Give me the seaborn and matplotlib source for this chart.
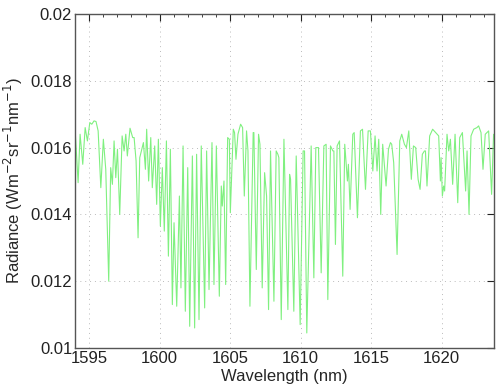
import numpy as np
import pandas as pd
import seaborn as sns
import matplotlib
matplotlib.use("Agg")
import matplotlib.pyplot as plt
from matplotlib.ticker import MultipleLocator

# spectrum (peaks and line cores)
wavelength = [
    1594.00, 1594.22, 1594.36, 1594.55, 1594.72, 1594.88, 1595.05, 1595.19, 1595.35, 1595.49,
    1595.64, 1595.83, 1596.01, 1596.18, 1596.39, 1596.53, 1596.65, 1596.77, 1596.89, 1597.01,
    1597.17, 1597.34, 1597.48, 1597.60, 1597.71, 1597.90, 1598.09, 1598.19, 1598.33, 1598.47,
    1598.59, 1598.85, 1598.99, 1599.08, 1599.22, 1599.37, 1599.48, 1599.65, 1599.79, 1599.91,
    1600.05, 1600.19, 1600.33, 1600.48, 1600.62, 1600.76, 1600.90, 1601.02, 1601.21, 1601.40,
    1601.51, 1601.66, 1601.82, 1601.99, 1602.13, 1602.32, 1602.48, 1602.62, 1602.79, 1602.95,
    1603.19, 1603.33, 1603.50, 1603.71, 1603.85, 1604.02, 1604.23, 1604.37, 1604.44, 1604.56,
    1604.68, 1604.82, 1604.94, 1605.01, 1605.22, 1605.31, 1605.41, 1605.55, 1605.74, 1605.88,
    1606.00, 1606.16, 1606.26, 1606.40, 1606.63, 1606.68, 1606.85, 1607.01, 1607.11, 1607.27,
    1607.44, 1607.58, 1607.72, 1607.86, 1608.10, 1608.26, 1608.38, 1608.45, 1608.62, 1608.81,
    1609.09, 1609.21, 1609.28, 1609.51, 1609.68, 1609.96, 1610.17, 1610.27, 1610.43, 1610.74,
    1610.93, 1611.07, 1611.26, 1611.45, 1611.64, 1611.80, 1611.92, 1612.11, 1612.28, 1612.35,
    1612.46, 1612.58, 1612.75, 1612.98, 1613.12, 1613.31, 1613.38, 1613.50, 1613.69, 1613.79,
    1614.02, 1614.23, 1614.38, 1614.59, 1614.78, 1614.94, 1615.11, 1615.27, 1615.41, 1615.53,
    1615.67, 1615.81, 1616.05, 1616.22, 1616.36, 1616.45, 1616.59, 1616.83, 1617.02, 1617.16,
    1617.35, 1617.49, 1617.66, 1617.84, 1617.99, 1618.15, 1618.32, 1618.46, 1618.62, 1618.77,
    1618.84, 1618.95, 1619.14, 1619.35, 1619.57, 1619.78, 1619.90, 1619.95, 1620.04, 1620.13,
    1620.20, 1620.37, 1620.49, 1620.61, 1620.77, 1620.94, 1621.13, 1621.27, 1621.46, 1621.69,
    1621.79, 1621.93, 1622.07, 1622.26, 1622.49, 1622.61, 1622.78, 1622.92, 1623.08, 1623.32,
    1623.53, 1623.67,
]
radiance = [
    0.01660, 0.01495, 0.01640, 0.01550, 0.01660, 0.01620, 0.01675, 0.01670, 0.01680, 0.01678,
    0.01650, 0.01480, 0.01625, 0.01535, 0.01200, 0.01540, 0.01490, 0.01620, 0.01510, 0.01595,
    0.01400, 0.01635, 0.01590, 0.01640, 0.01575, 0.01658, 0.01630, 0.01630, 0.01560, 0.01330,
    0.01570, 0.01615, 0.01535, 0.01655, 0.01500, 0.01630, 0.01480, 0.01605, 0.01430, 0.01625,
    0.01365, 0.01540, 0.01350, 0.01620, 0.01275, 0.01595, 0.01130, 0.01375, 0.01125, 0.01455,
    0.01180, 0.01605, 0.01110, 0.01540, 0.01065, 0.01575, 0.01060, 0.01580, 0.01085, 0.01605,
    0.01120, 0.01590, 0.01175, 0.01615, 0.01190, 0.01605, 0.01155, 0.01485, 0.01425, 0.01500,
    0.01190, 0.01630, 0.01625, 0.01405, 0.01655, 0.01645, 0.01565, 0.01640, 0.01670, 0.01660,
    0.01455, 0.01650, 0.01590, 0.01125, 0.01645, 0.01645, 0.01235, 0.01640, 0.01610, 0.01180,
    0.01525, 0.01455, 0.01115, 0.01590, 0.01140, 0.01590, 0.01580, 0.01570, 0.01085, 0.01625,
    0.01115, 0.01520, 0.01505, 0.01110, 0.01575, 0.01070, 0.01590, 0.01590, 0.01045, 0.01605,
    0.01210, 0.01600, 0.01600, 0.01225, 0.01605, 0.01610, 0.01145, 0.01605, 0.01590, 0.01590,
    0.01310, 0.01605, 0.01620, 0.01215, 0.01610, 0.01500, 0.01550, 0.01415, 0.01640, 0.01645,
    0.01390, 0.01650, 0.01655, 0.01475, 0.01650, 0.01650, 0.01530, 0.01635, 0.01530, 0.01625,
    0.01400, 0.01610, 0.01485, 0.01595, 0.01615, 0.01610, 0.01555, 0.01280, 0.01620, 0.01640,
    0.01610, 0.01600, 0.01650, 0.01505, 0.01605, 0.01600, 0.01505, 0.01475, 0.01580, 0.01590,
    0.01590, 0.01485, 0.01635, 0.01655, 0.01645, 0.01635, 0.01500, 0.01570, 0.01455, 0.01485,
    0.01470, 0.01640, 0.01590, 0.01625, 0.01490, 0.01640, 0.01435, 0.01630, 0.01645, 0.01470,
    0.01590, 0.01400, 0.01635, 0.01655, 0.01660, 0.01665, 0.01645, 0.01535, 0.01640, 0.01650,
    0.01460, 0.01640,
]
x_ticks = [1595, 1600, 1605, 1610, 1615, 1620]
y_ticks = [0.01, 0.012, 0.014, 0.016, 0.018, 0.02]
y_labels = ["0.01", "0.012", "0.014", "0.016", "0.018", "0.02"]

df = pd.DataFrame({"wl": wavelength, "rad": radiance})

sns.set_style("white")
plt.rcParams["font.family"] = ["Liberation Sans", "DejaVu Sans"]

fig = plt.figure(figsize=(5, 3.89), dpi=100)
ax = fig.add_axes([0.15, 0.1054, 0.838, 0.8586])

sns.lineplot(data=df, x="wl", y="rad", ax=ax, color="#80f080", linewidth=0.8)

ax.set_xlim(1594.0, 1623.7)
ax.set_ylim(0.01, 0.02)
ax.set_xticks(x_ticks)
ax.set_yticks(y_ticks)
ax.set_yticklabels(y_labels)
ax.xaxis.set_minor_locator(MultipleLocator(1))
ax.tick_params(which="both", direction="in", top=True, right=True,
               labelsize=12, colors="#222222", pad=2)
ax.tick_params(which="major", length=5)
ax.tick_params(which="minor", length=2.5)
ax.grid(True, which="major", linestyle=(0, (1, 4)), color="#bbbbbb", linewidth=0.7)
for s in ax.spines.values():
    s.set_color("#555555")
    s.set_linewidth(1.0)

ax.set_xlabel("Wavelength (nm)", fontsize=12, labelpad=2)
ax.set_ylabel("Radiance (Wm$^{-2}$sr$^{-1}$nm$^{-1}$)", fontsize=12, labelpad=4)

fig.savefig("out.png", dpi=100)
